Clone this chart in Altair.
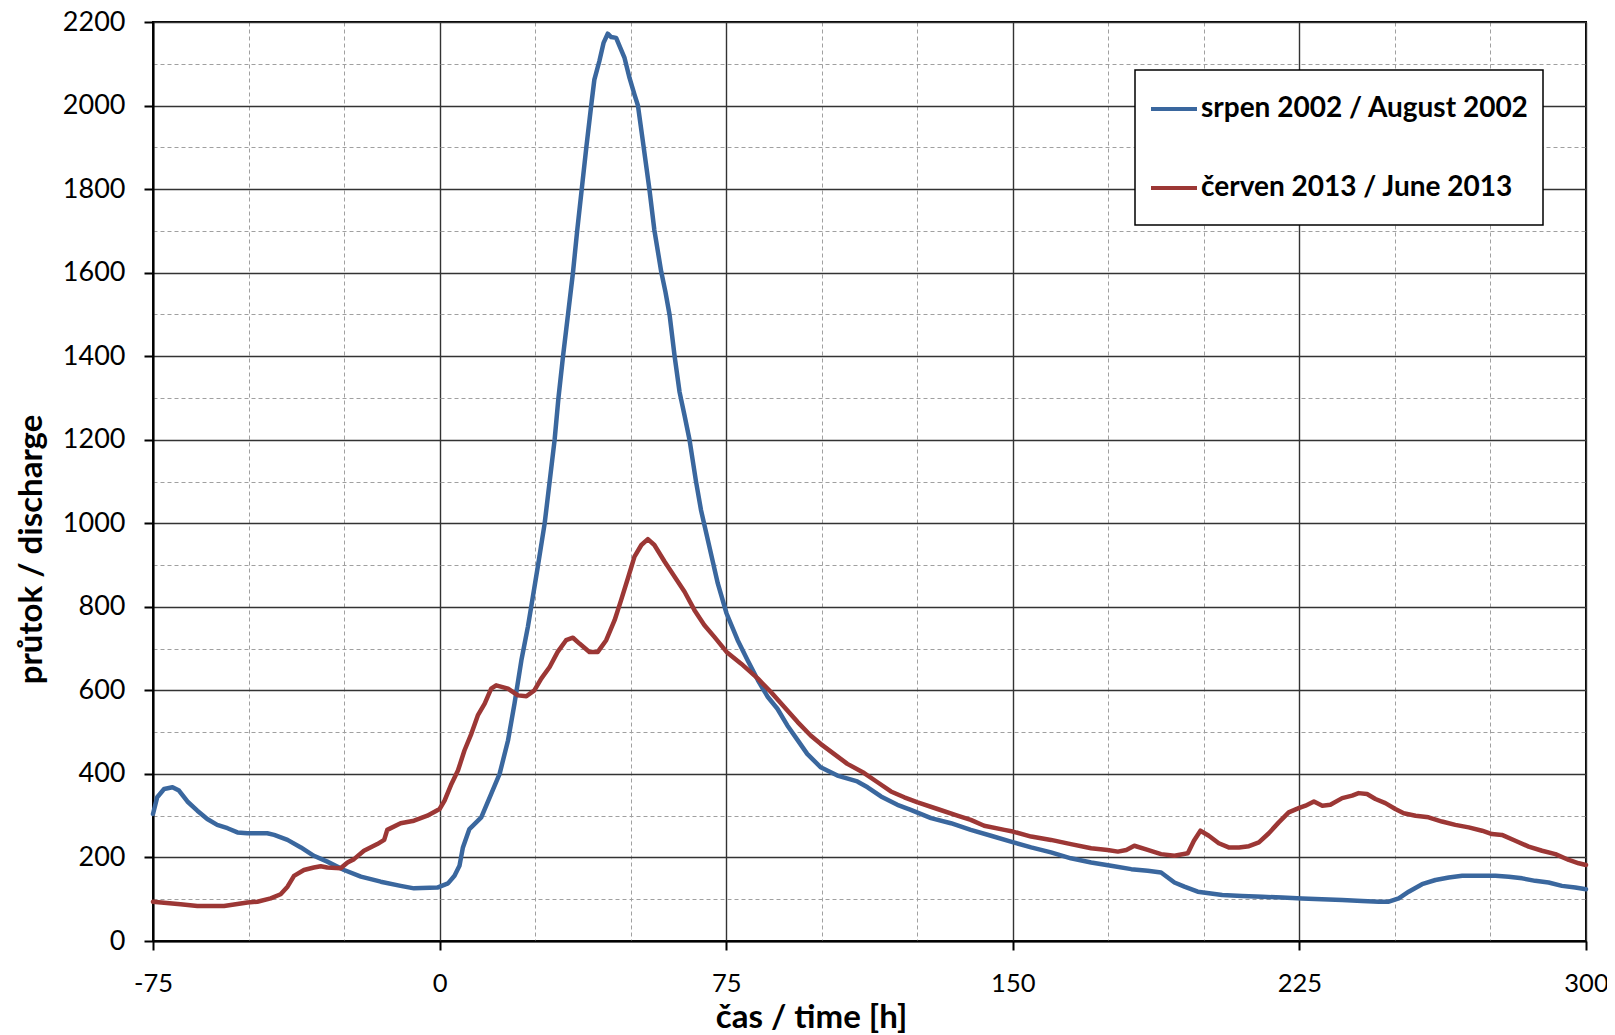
import altair as alt
import pandas as pd

# ---- data ----
series_names = ["srpen 2002 / August 2002", "červen 2013 / June 2013"]
series_colors = ["#3A679E", "#9C3735"]

t_2002 = [-75, -73.9, -72.1, -69.9, -68.2, -66.0, -63.4, -60.8, -58.2, -55.5, -52.9, -50.3,
          -45.1, -43.3, -39.8, -36.3, -32.9, -29.4, -25.0, -20.6, -15.4, -10.2, -6.7, -0.6,
          2.2, 3.9, 5.2, 6.1, 7.8, 10.9, 13.5, 15.7, 17.9, 19.6, 21.4, 23.1, 24.4, 25.7,
          27.5, 28.8, 30.1, 31.1, 32.3, 33.6, 34.9, 36.0, 37.2, 38.4, 39.8, 40.5, 41.8,
          42.9, 44.0, 44.9, 46.2, 47.1, 48.4, 49.7, 51.0, 51.9, 53.2, 54.9, 56.2, 58.0,
          59.1, 60.2, 61.5, 62.8, 64.1, 65.4, 67.1, 68.4, 70.6, 72.8, 75.1, 78.0, 80.6,
          83.3, 85.9, 88.4, 91.0, 93.6, 96.2, 99.7, 104.1, 109.3, 112.0, 115.5, 119.8,
          123.3, 128.6, 133.8, 139.0, 144.3, 149.5, 154.8, 160.0, 165.2, 170.5, 175.7,
          181.0, 185.3, 188.8, 192.3, 194.9, 198.4, 204.8, 210.0, 215.3, 220.5, 225.7,
          230.9, 236.2, 241.4, 245.8, 248.4, 251.0, 253.6, 257.1, 260.6, 264.1, 267.6,
          272.8, 276.3, 279.8, 283.3, 286.7, 290.2, 293.7, 297.2, 300]
q_2002 = [304, 344, 364, 368, 360, 334, 312, 292, 278, 270, 260, 258,
          258, 254, 242, 224, 204, 190, 170, 154, 142, 132, 126, 128,
          138, 156, 180, 224, 268, 296, 352, 400, 480, 568, 672, 752, 824, 896,
          1000, 1100, 1200, 1300, 1400, 1500, 1600, 1700, 1800, 1900, 2010, 2062, 2106,
          2150, 2172, 2164, 2162, 2142, 2114, 2066, 2026, 2000, 1914, 1800, 1702, 1602,
          1554, 1498, 1400, 1314, 1258, 1200, 1100, 1032, 944, 856, 784, 720, 672,
          624, 584, 556, 516, 482, 448, 416, 396, 382, 368, 346, 326,
          314, 294, 282, 266, 252, 238, 224, 212, 198, 188, 180,
          172, 168, 164, 140, 130, 118, 110, 108, 106, 104, 102,
          100, 98, 96, 94, 94, 102, 118, 136, 146, 152, 156,
          156, 156, 154, 150, 144, 140, 132, 128, 124]

t_2013 = [-75, -67.8, -63.4, -56.4, -50.3, -47.7, -44.2, -41.6, -39.8, -38.1, -35.5, -32.9,
          -31.1, -29.4, -25.9, -24.1, -22.4, -19.8, -16.3, -14.5, -13.7, -10.2, -6.7, -3.2,
          0, 1.3, 3.1, 4.8, 6.5, 8.3, 10.0, 11.8, 13.5, 14.8, 17.9, 20.5, 22.7, 24.8,
          26.6, 28.8, 30.9, 33.1, 34.9, 36.6, 39.2, 41.4, 43.6, 45.8, 47.5, 49.4, 51.0,
          52.8, 54.5, 56.2, 58.9, 61.5, 64.1, 66.7, 69.3, 71.9, 75.1, 78.9, 83.3, 86.7,
          90.2, 93.7, 97.1, 99.7, 103.2, 106.7, 111.1, 114.6, 118.1, 121.6, 125.1, 130.3,
          135.5, 139.0, 142.5, 147.8, 150.0, 154.8, 160.0, 165.2, 170.5, 174.8, 177.5,
          179.7, 181.8, 185.3, 188.8, 192.3, 195.8, 197.4, 199.1, 201.3, 203.9, 206.5,
          209.2, 211.8, 214.4, 217.0, 219.6, 222.2, 224.8, 226.6, 228.8, 231.0, 233.1,
          236.2, 238.8, 240.5, 242.7, 244.9, 247.5, 250.1, 252.3, 255.4, 258.8, 262.3,
          265.8, 269.3, 272.8, 275.4, 278.0, 281.5, 285.0, 288.5, 292.0, 295.5, 298.1, 300]
q_2013 = [94, 88, 84, 84, 92, 94, 102, 112, 130, 156, 170, 176,
          179, 176, 174, 188, 196, 216, 232, 242, 266, 282, 288, 300,
          316, 336, 376, 408, 456, 496, 540, 568, 604, 612, 604, 588, 586, 600,
          628, 656, 692, 720, 726, 712, 692, 692, 720, 768, 816, 872, 920,
          948, 962, 948, 908, 872, 836, 792, 756, 728, 692, 664, 628, 596,
          560, 524, 492, 472, 448, 424, 402, 380, 358, 344, 332, 316,
          300, 290, 276, 266, 262, 250, 242, 232, 222, 218, 214,
          218, 228, 218, 208, 204, 210, 240, 264, 252, 234, 224,
          224, 227, 236, 258, 284, 308, 318, 324, 334, 324, 326,
          342, 348, 354, 352, 340, 330, 316, 306, 300, 296, 286,
          278, 272, 264, 256, 254, 240, 226, 216, 208, 194, 186, 182]

x_ticks = list(range(-75, 301, 25))
y_ticks = list(range(0, 2201, 100))

df = pd.concat([
    pd.DataFrame({"t": t_2002, "q": q_2002, "series": series_names[0], "order": range(len(t_2002))}),
    pd.DataFrame({"t": t_2013, "q": q_2013, "series": series_names[1], "order": range(len(t_2013))}),
], ignore_index=True)

FONT = "Lato"
major_x = "datum.value % 75 === 0"
major_y = "datum.value % 200 === 0"

x_axis = alt.Axis(
    values=x_ticks,
    labelExpr=f"{major_x} ? '' + datum.value : ''",
    title="čas / time [h]",
    titleFont=FONT, titleFontSize=33, titleFontWeight="bold", titleColor="#000",
    titleX=658, titleY=76, titleAlign="center", titleBaseline="middle", titleAnchor="start",
    labelFont=FONT, labelFontSize=25.5, labelColor="#000", labelPadding=21,
    labelFlush=False, labelOverlap=False, labelBound=False,
    tickSize=9, tickWidth=2, tickColor="#000",
    tickOpacity=alt.condition(major_x, alt.value(1), alt.value(0)),
    domainColor="#000", domainWidth=2,
    grid=True,
    gridColor=alt.condition(major_x, alt.value("#333333"), alt.value("#a0a0a0")),
    gridWidth=alt.condition(major_x, alt.value(1.4), alt.value(1)),
    gridDash=alt.condition(major_x, alt.value([]), alt.value([4, 3])),
)

y_axis = alt.Axis(
    values=y_ticks,
    labelExpr=f"{major_y} ? '' + datum.value : ''",
    title="průtok / discharge",
    titleFont=FONT, titleFontSize=33, titleFontWeight="bold", titleColor="#000",
    titleX=-122, titleY=527, titleAngle=270, titleAlign="center", titleBaseline="middle",
    titleAnchor="start",
    labelFont=FONT, labelFontSize=27, labelColor="#000", labelPadding=19,
    labelOverlap=False, labelBound=False, labelFlush=False,
    tickSize=9, tickWidth=2, tickColor="#000",
    tickOpacity=alt.condition(major_y, alt.value(1), alt.value(0)),
    domainColor="#000", domainWidth=2,
    grid=True,
    gridColor=alt.condition(major_y, alt.value("#333333"), alt.value("#a0a0a0")),
    gridWidth=alt.condition(major_y, alt.value(1.4), alt.value(1)),
    gridDash=alt.condition(major_y, alt.value([]), alt.value([4, 3])),
)

chart = alt.Chart(df).mark_line(strokeWidth=4.5, strokeCap="round", strokeJoin="round").encode(
    x=alt.X("t:Q", scale=alt.Scale(domain=[-75, 300], nice=False, zero=False), axis=x_axis),
    y=alt.Y("q:Q", scale=alt.Scale(domain=[0, 2200], nice=False), axis=y_axis),
    color=alt.Color(
        "series:N",
        scale=alt.Scale(domain=series_names, range=series_colors),
        legend=alt.Legend(
            title=" ", titleOrient="bottom", titleFontSize=9, titlePadding=0,
            orient="none", legendX=982, legendY=48,
            symbolType="stroke", symbolSize=2116, symbolStrokeWidth=4,
            labelFont=FONT, labelFontSize=28, labelFontWeight="bold", labelColor="#000",
            labelOffset=2, labelLimit=700, rowPadding=40, padding=14,
            fillColor="#ffffff", strokeColor="#000000",
        ),
    ),
    order="order:Q",
).properties(
    width=1433, height=919,
    autosize=alt.AutoSizeParams(type="none"),
    padding={"left": 145, "top": 14, "right": 21, "bottom": 94},
).configure_view(
    stroke="#000", strokeWidth=2
).configure_legend(
    strokeWidth=1.5
)

chart.save("out.html", embed_options={"renderer": "svg", "actions": False})
